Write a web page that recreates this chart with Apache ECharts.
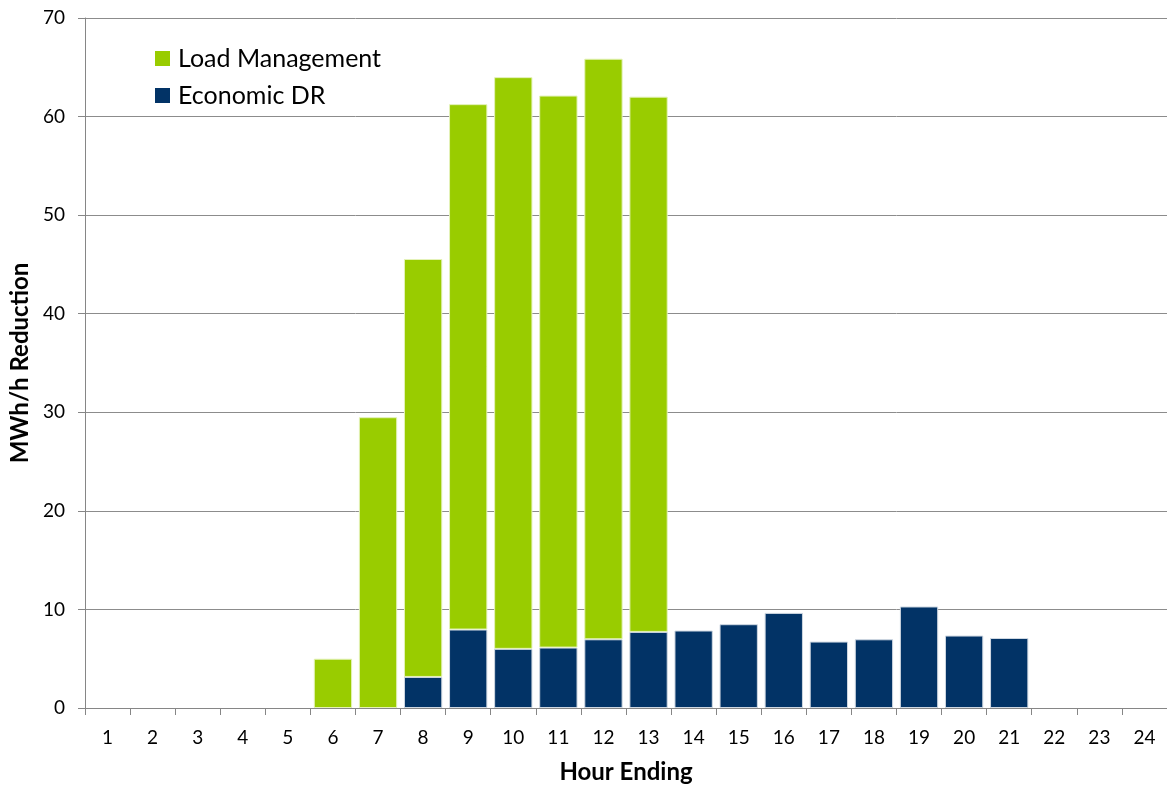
<!DOCTYPE html>
<html><head><meta charset="utf-8">
<script src="https://cdn.jsdelivr.net/npm/echarts@6/dist/echarts.min.js"></script>
<style>html,body{margin:0;padding:0;background:#fff}#c{width:1167px;height:789px}</style>
</head><body><div id="c"></div>
<script>
const hours = ['1','2','3','4','5','6','7','8','9','10','11','12','13','14','15','16','17','18','19','20','21','22','23','24'];
const economicDR = [0,0,0,0,0,0,0,3.15,7.96,6.0,6.13,6.97,7.72,7.86,8.5,9.65,6.74,6.97,10.3,7.35,7.1,0,0,0];
const loadManagement = [0,0,0,0,0,5.0,29.5,42.4,53.3,58.0,56.0,58.9,54.3,0,0,0,0,0,0,0,0,0,0,0];
const yTicks = {min:0, max:70, interval:10};

const hideZero = arr => arr.map(v => v === 0 ? null : v);
const font = 'Lato, "Open Sans", sans-serif';
const chart = echarts.init(document.getElementById('c'));
chart.setOption({
  animation:false,
  grid:{left:85, right:0, top:18, bottom:81, containLabel:false, outerBoundsMode:'none'},
  legend:{
    left:150, top:41, orient:'vertical', itemGap:12, itemWidth:15, itemHeight:15,
    icon:'rect', padding:5,
    itemStyle:{borderWidth:0},
    textStyle:{fontFamily:font, fontSize:25, color:'#000', padding:[0,0,0,3]},
    data:['Load Management','Economic DR']
  },
  xAxis:{
    type:'category', data:hours, boundaryGap:true,
    name:'Hour Ending', nameLocation:'middle', nameGap:52,
    nameTextStyle:{fontFamily:font, fontSize:24, fontWeight:'bold', color:'#000'},
    axisLine:{lineStyle:{color:'#868686', width:1}},
    axisTick:{show:true, alignWithLabel:false, length:7, lineStyle:{color:'#868686'}},
    axisLabel:{fontFamily:font, fontSize:19, color:'#000', margin:20}
  },
  yAxis:{
    type:'value', min:yTicks.min, max:yTicks.max, interval:yTicks.interval,
    name:'MWh/h Reduction', nameLocation:'middle', nameGap:52, nameRotate:90,
    nameTextStyle:{fontFamily:font, fontSize:24, fontWeight:'bold', color:'#000'},
    axisLine:{show:true, lineStyle:{color:'#868686'}},
    axisTick:{show:true, length:7, inside:false, lineStyle:{color:'#868686'}},
    axisLabel:{fontFamily:font, fontSize:19, color:'#000', margin:20},
    splitLine:{lineStyle:{color:'#8c8c8c', width:1}}
  },
  series:[
    {name:'Economic DR', type:'bar', stack:'s', data:hideZero(economicDR), barCategoryGap:'15%',
     itemStyle:{color:'#023366', borderColor:'#cfd8e2', borderWidth:1}},
    {name:'Load Management', type:'bar', stack:'s', data:hideZero(loadManagement), barCategoryGap:'15%',
     itemStyle:{color:'#99cc00', borderColor:'#e4f2b8', borderWidth:1}}
  ]
});
</script></body></html>
